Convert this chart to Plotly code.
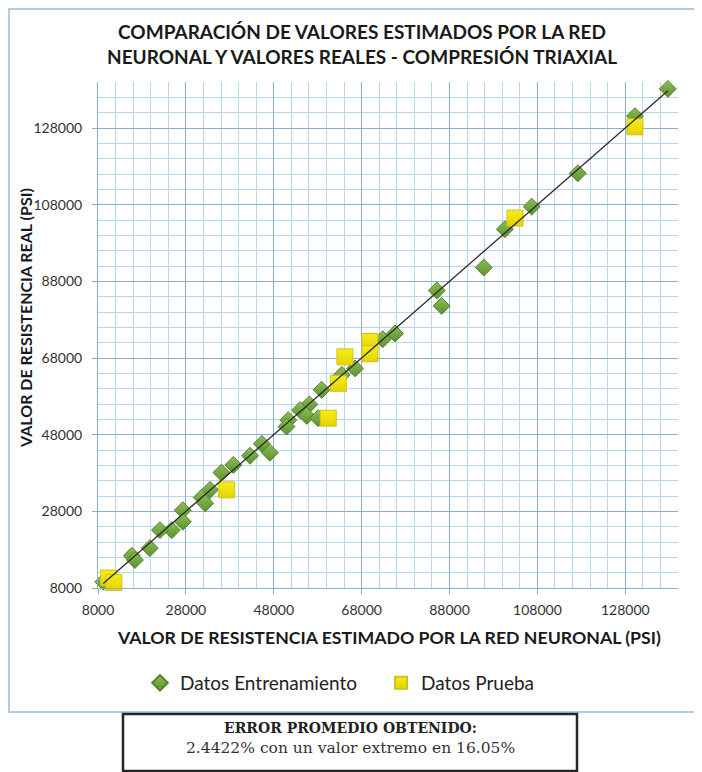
import plotly.graph_objects as go

# ---- data (PSI) ----
train_estimado = [137700, 130200, 117200, 106700, 100600, 95800, 85100, 86200,
                  75600, 72800, 66500, 63500, 58900, 56100, 54000, 55500, 58100,
                  51300, 50900, 45300, 47100, 42600, 38800, 36100, 33500, 31600,
                  32400, 27300, 27300, 24800, 22100, 19800, 15700, 16400, 9200]
train_real = [138200, 131100, 116200, 107500, 101600, 91600, 85600, 81600,
              74400, 72900, 65300, 63600, 59700, 55900, 54400, 52900, 52300,
              51800, 50100, 45600, 43300, 42500, 40100, 38100, 33600, 31600,
              30100, 28300, 25300, 23100, 23100, 18400, 16400, 15300, 9600]

test_estimado = [130200, 102900, 69900, 69900, 64200, 62700, 60400, 37300, 10400, 11600]
test_real = [128300, 104500, 72300, 69100, 68300, 61400, 52300, 33600, 10600, 9400]

tick_values = [8000, 28000, 48000, 68000, 88000, 108000, 128000]
axis_min, axis_max = 8000, 140000

title_text = "COMPARACIÓN DE VALORES ESTIMADOS POR LA RED<br>NEURONAL Y VALORES REALES - COMPRESIÓN TRIAXIAL"
x_title = "VALOR DE RESISTENCIA ESTIMADO POR LA RED NEURONAL (PSI)"
y_title = "VALOR DE RESISTENCIA REAL (PSI)"
box_line1 = "ERROR PROMEDIO OBTENIDO:"
box_line2 = "2.4422% con un valor extremo en 16.05%"

# ---- geometry (page has an 8px body margin) ----
OFF = 8
W, H = 702 - OFF, 772 - OFF
PLOT_L, PLOT_R, PLOT_T, PLOT_B = 98, 678, 82, 588     # page pixels
L, T = PLOT_L - OFF, PLOT_T - OFF
R = 702 - PLOT_R
B = H - (PLOT_B - OFF)
PW, PH = PLOT_R - PLOT_L, PLOT_B - PLOT_T


def px(x):
    return (x - PLOT_L) / PW


def py(y):
    return (PLOT_B - y) / PH


SANS = "Lato"
SERIF = "DejaVu Serif"

fig = go.Figure()

fig.add_trace(go.Scatter(
    x=train_estimado, y=train_real, mode="markers", name="Datos Entrenamiento",
    marker=dict(symbol="diamond", size=13, color="#8CBF55",
                gradient=dict(type="vertical", color="#5E9030"),
                line=dict(color="#55812C", width=1)),
    cliponaxis=False, legend="legend"))

fig.add_trace(go.Scatter(
    x=test_estimado, y=test_real, mode="markers", name="Datos Prueba",
    marker=dict(symbol="square", size=16, color="#F7EC1A",
                gradient=dict(type="vertical", color="#E2D400"),
                line=dict(color="#CFC21A", width=1)),
    cliponaxis=False, legend="legend2"))

all_vals = train_estimado + test_estimado
lo, hi = min(all_vals), max(all_vals)
fig.add_trace(go.Scatter(
    x=[lo, hi], y=[lo, hi], mode="lines", showlegend=False,
    line=dict(color="#2B2B2B", width=1.3), hoverinfo="skip"))

axis_common = dict(
    range=[axis_min, axis_max], tickvals=tick_values, tickformat="d",
    showgrid=True, gridcolor="#8AAFCB", gridwidth=1,
    minor=dict(tick0=8000, dtick=4000, showgrid=True, gridcolor="#B9D7EC", gridwidth=1),
    showline=True, linecolor="#8AAFCB", linewidth=1,
    ticks="outside", ticklen=5, tickcolor="#8AAFCB",
    tickfont=dict(family=SANS, size=14, color="#333333"),
    zeroline=False, fixedrange=True,
)

legend_common = dict(orientation="h", y=py(683), xanchor="left", yanchor="middle",
                     itemsizing="constant",
                     font=dict(family=SANS, size=19, color="#222222"),
                     bgcolor="rgba(0,0,0,0)")

fig.update_layout(
    width=W, height=H, autosize=False,
    margin=dict(l=L, r=R, t=T, b=B, pad=0),
    paper_bgcolor="white", plot_bgcolor="white",
    xaxis=dict(**axis_common, ticklabelstandoff=4),
    yaxis=dict(**axis_common, ticklabelstandoff=7),
    legend=dict(**legend_common, x=px(140)),
    legend2=dict(**legend_common, x=px(381)),
    shapes=[
        dict(type="rect", xref="paper", yref="paper", x0=px(9), x1=px(700), y0=py(712), y1=py(9),
             line=dict(color="#9BBBD9", width=1.5), fillcolor="rgba(0,0,0,0)", layer="below"),
        dict(type="rect", xref="paper", yref="paper", x0=px(123), x1=px(577), y0=py(714), y1=py(771),
             line=dict(color="#262626", width=2.5), fillcolor="white"),
    ],
    annotations=[
        dict(text="<b>" + title_text + "</b>", x=px(362), y=py(44), xref="paper", yref="paper",
             showarrow=False, xanchor="center", yanchor="middle",
             font=dict(family=SANS, size=19, color="#1A1A1A")),
        dict(text="<b>" + x_title + "</b>", x=px(389), y=py(637), xref="paper", yref="paper",
             showarrow=False, xanchor="center", yanchor="middle",
             font=dict(family=SANS, size=17.7, color="#1A1A1A")),
        dict(text="<b>" + y_title + "</b>", x=px(25), y=py(318), xref="paper", yref="paper",
             showarrow=False, xanchor="center", yanchor="middle", textangle=-90,
             font=dict(family=SANS, size=16, color="#1A1A1A")),
        dict(text="<b>" + box_line1 + "</b>", x=px(350), y=py(727.5), xref="paper", yref="paper",
             showarrow=False, xanchor="center", yanchor="middle",
             font=dict(family=SERIF, size=14, color="#222222")),
        dict(text=box_line2, x=px(350), y=py(747.5), xref="paper", yref="paper",
             showarrow=False, xanchor="center", yanchor="middle",
             font=dict(family=SERIF, size=15.5, color="#333333")),
    ],
)

fig.write_html("out.html")
